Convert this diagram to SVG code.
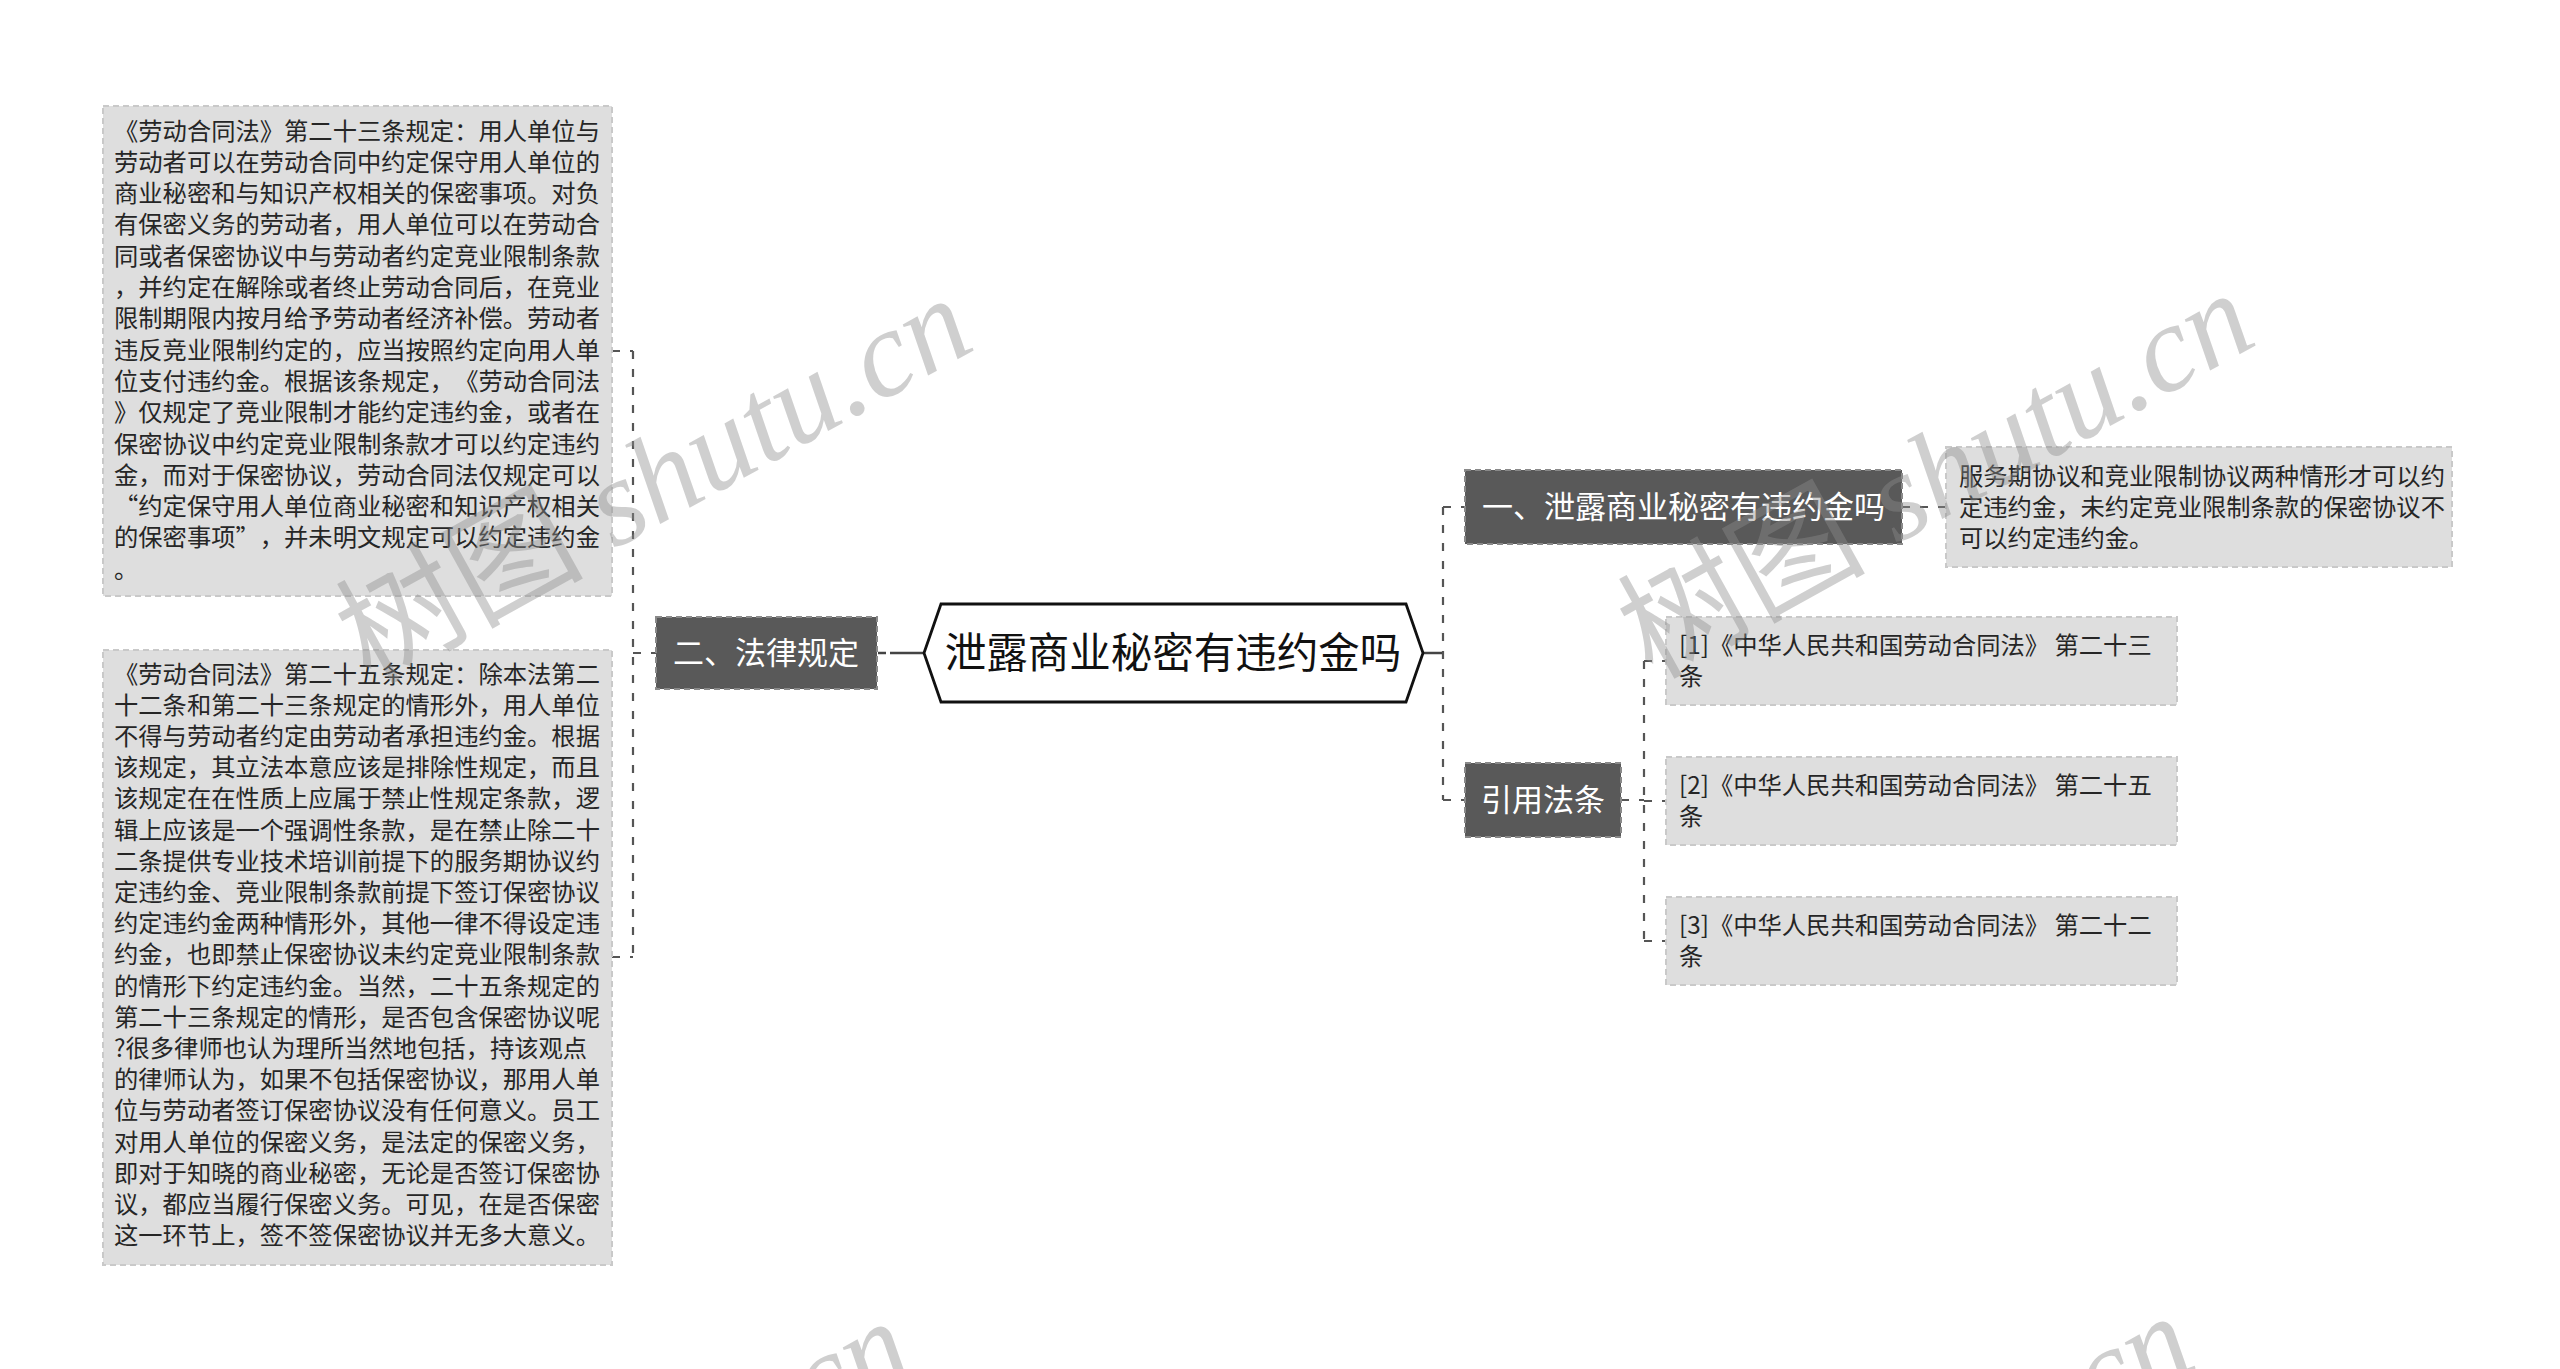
<svg xmlns="http://www.w3.org/2000/svg" width="2560" height="1369" viewBox="0 0 2560 1369">
<defs>
<style>
text{text-spacing-trim:space-all}
.bg{fill:#ffffff}
.note{fill:#dedede;stroke:#c9c9c9;stroke-width:2;stroke-dasharray:6 4}
.dark{fill:#595959;stroke:#8a8a8a;stroke-width:2;stroke-dasharray:6 4}
.ntxt{font-family:"Noto Sans CJK SC","Noto Sans",sans-serif;font-size:24.3px;fill:#262626}
.dtxt{font-family:"Noto Sans CJK SC","Noto Sans",sans-serif;font-size:31px;fill:#ffffff;text-anchor:middle}
.ctxt{font-family:"Noto Sans CJK SC","Noto Sans",sans-serif;font-size:41.5px;fill:#111111;text-anchor:middle}
.dash{fill:none;stroke:#555555;stroke-width:2.2;stroke-dasharray:8 10}
.solid{fill:none;stroke:#444444;stroke-width:2.5}
.wm{font-family:"Liberation Serif","Noto Sans CJK SC",serif;font-size:124px;fill:#8c8c8c;fill-opacity:0.42}
</style>
</defs>
<rect class="bg" x="0" y="0" width="2560" height="1369"/>

<g id="connectors">
<path class="dash" d="M633,351 V957"/>
<path class="dash" d="M612,351 H633"/>
<path class="dash" d="M612,957 H633"/>
<path class="dash" d="M633,653 H656"/>
<path class="solid" d="M878,653 H886"/>
<path class="solid" d="M890,653 H924"/>
<path class="solid" d="M1423,653 H1443"/>
<path class="dash" d="M1443,507 V800"/>
<path class="dash" d="M1443,507 H1465"/>
<path class="dash" d="M1443,800 H1465"/>
<path class="dash" d="M1902,507 H1946"/>
<path class="dash" d="M1621,800 H1644"/>
<path class="dash" d="M1644,661 V941"/>
<path class="dash" d="M1644,661 H1666"/>
<path class="dash" d="M1644,801 H1666"/>
<path class="dash" d="M1644,941 H1666"/>
</g>

<g id="node-center">
<path d="M924,653 L941,604 H1406 L1423,653 L1406,702 H941 Z" fill="#ffffff" stroke="#111111" stroke-width="2.8" stroke-linejoin="miter"/>
<text class="ctxt" x="1173" y="668">泄露商业秘密有违约金吗</text>
</g>

<g id="node-falv">
<rect class="dark" x="656" y="617" width="221" height="72"/>
<text class="dtxt" x="766" y="664">二、法律规定</text>
</g>

<g id="node-note1">
<rect class="note" x="103" y="106" width="509" height="490"/>
<text class="ntxt" x="114" y="139.5">
<tspan x="114">《劳动合同法》第二十三条规定：用人单位与</tspan>
<tspan x="114" dy="31.3">劳动者可以在劳动合同中约定保守用人单位的</tspan>
<tspan x="114" dy="31.3">商业秘密和与知识产权相关的保密事项。对负</tspan>
<tspan x="114" dy="31.3">有保密义务的劳动者，用人单位可以在劳动合</tspan>
<tspan x="114" dy="31.3">同或者保密协议中与劳动者约定竞业限制条款</tspan>
<tspan x="114" dy="31.3">，并约定在解除或者终止劳动合同后，在竞业</tspan>
<tspan x="114" dy="31.3">限制期限内按月给予劳动者经济补偿。劳动者</tspan>
<tspan x="114" dy="31.3">违反竞业限制约定的，应当按照约定向用人单</tspan>
<tspan x="114" dy="31.3">位支付违约金。根据该条规定，《劳动合同法</tspan>
<tspan x="114" dy="31.3">》仅规定了竞业限制才能约定违约金，或者在</tspan>
<tspan x="114" dy="31.3">保密协议中约定竞业限制条款才可以约定违约</tspan>
<tspan x="114" dy="31.3">金，而对于保密协议，劳动合同法仅规定可以</tspan>
<tspan x="114" dy="31.3">“约定保守用人单位商业秘密和知识产权相关</tspan>
<tspan x="114" dy="31.3">的保密事项”，并未明文规定可以约定违约金</tspan>
<tspan x="114" dy="31.3">。</tspan>
</text>
</g>

<g id="node-note2">
<rect class="note" x="103" y="650" width="509" height="615"/>
<text class="ntxt" x="114" y="682.5">
<tspan x="114">《劳动合同法》第二十五条规定：除本法第二</tspan>
<tspan x="114" dy="31.2">十二条和第二十三条规定的情形外，用人单位</tspan>
<tspan x="114" dy="31.2">不得与劳动者约定由劳动者承担违约金。根据</tspan>
<tspan x="114" dy="31.2">该规定，其立法本意应该是排除性规定，而且</tspan>
<tspan x="114" dy="31.2">该规定在在性质上应属于禁止性规定条款，逻</tspan>
<tspan x="114" dy="31.2">辑上应该是一个强调性条款，是在禁止除二十</tspan>
<tspan x="114" dy="31.2">二条提供专业技术培训前提下的服务期协议约</tspan>
<tspan x="114" dy="31.2">定违约金、竞业限制条款前提下签订保密协议</tspan>
<tspan x="114" dy="31.2">约定违约金两种情形外，其他一律不得设定违</tspan>
<tspan x="114" dy="31.2">约金，也即禁止保密协议未约定竞业限制条款</tspan>
<tspan x="114" dy="31.2">的情形下约定违约金。当然，二十五条规定的</tspan>
<tspan x="114" dy="31.2">第二十三条规定的情形，是否包含保密协议呢</tspan>
<tspan x="114" dy="31.2">?很多律师也认为理所当然地包括，持该观点</tspan>
<tspan x="114" dy="31.2">的律师认为，如果不包括保密协议，那用人单</tspan>
<tspan x="114" dy="31.2">位与劳动者签订保密协议没有任何意义。员工</tspan>
<tspan x="114" dy="31.2">对用人单位的保密义务，是法定的保密义务，</tspan>
<tspan x="114" dy="31.2">即对于知晓的商业秘密，无论是否签订保密协</tspan>
<tspan x="114" dy="31.2">议，都应当履行保密义务。可见，在是否保密</tspan>
<tspan x="114" dy="31.2">这一环节上，签不签保密协议并无多大意义。</tspan>
</text>
</g>

<g id="node-yi">
<rect class="dark" x="1465" y="470" width="437" height="74"/>
<text class="dtxt" x="1683.5" y="518">一、泄露商业秘密有违约金吗</text>
</g>

<g id="node-note3">
<rect class="note" x="1946" y="447" width="506" height="120"/>
<text class="ntxt" x="1959" y="484.5">
<tspan x="1959">服务期协议和竞业限制协议两种情形才可以约</tspan>
<tspan x="1959" dy="31">定违约金，未约定竞业限制条款的保密协议不</tspan>
<tspan x="1959" dy="31">可以约定违约金。</tspan>
</text>
</g>

<g id="node-yinyong">
<rect class="dark" x="1465" y="763" width="156" height="74"/>
<text class="dtxt" x="1543" y="811">引用法条</text>
</g>

<g id="node-ref1">
<rect class="note" x="1666" y="617" width="511" height="88"/>
<text class="ntxt" x="1679" y="654"><tspan x="1679">[1]《中华人民共和国劳动合同法》 第二十三</tspan><tspan x="1679" dy="31">条</tspan></text>
</g>
<g id="node-ref2">
<rect class="note" x="1666" y="757" width="511" height="88"/>
<text class="ntxt" x="1679" y="794"><tspan x="1679">[2]《中华人民共和国劳动合同法》 第二十五</tspan><tspan x="1679" dy="31">条</tspan></text>
</g>
<g id="node-ref3">
<rect class="note" x="1666" y="897" width="511" height="88"/>
<text class="ntxt" x="1679" y="934"><tspan x="1679">[3]《中华人民共和国劳动合同法》 第二十二</tspan><tspan x="1679" dy="31">条</tspan></text>
</g>

<g id="watermarks">
<text class="wm" transform="translate(370,685) rotate(-29)">树图 <tspan font-style="italic">shutu.cn</tspan></text>
<text class="wm" transform="translate(1652,680) rotate(-29)">树图 <tspan font-style="italic">shutu.cn</tspan></text>
<text class="wm" transform="translate(310,1708) rotate(-29)">树图 <tspan font-style="italic">shutu.cn</tspan></text>
<text class="wm" transform="translate(1592,1703) rotate(-29)">树图 <tspan font-style="italic">shutu.cn</tspan></text>
</g>
</svg>
